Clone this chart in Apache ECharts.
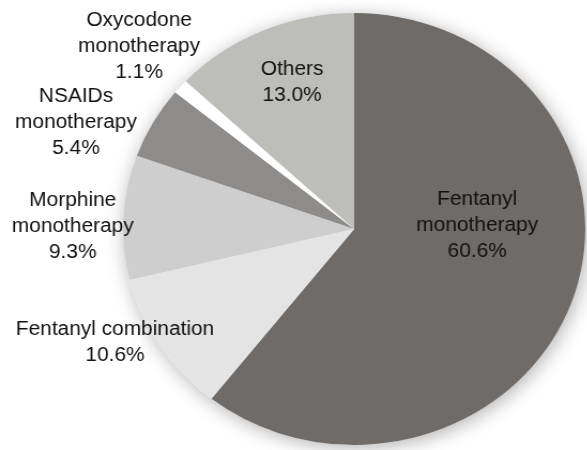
<!DOCTYPE html>
<html>
<head>
<meta charset="utf-8">
<script src="https://cdn.jsdelivr.net/npm/echarts@6/dist/echarts.min.js"></script>
<style>
  html, body { margin: 0; padding: 0; background: #fff; overflow: hidden; }
  #wrap { width: 587px; height: 450px; position: relative; overflow: hidden; }
  #chart { width: 549px; height: 450px; position: absolute; left: 0; top: 0;
           transform: scaleX(1.07); transform-origin: 0 0; }
</style>
</head>
<body>
<div id="wrap"><div id="chart"></div></div>
<script>
// ---- data ----
const categories = ['Fentanyl\nmonotherapy', 'Fentanyl combination', 'Morphine\nmonotherapy', 'NSAIDs\nmonotherapy', 'Oxycodone\nmonotherapy', 'Others'];
const values = [60.6, 10.6, 9.3, 5.4, 1.1, 13.0];

// ---- styling ----
const colors = ['#6e6b68', '#e4e4e4', '#cecece', '#8e8c8a', '#ffffff', '#bdbebA'];
const labelPos = [[446, 226], [107.5, 343], [68, 227], [71, 123], [130, 47], [273, 83]];
const center = [331, 229];
const radius = 216;

const chart = echarts.init(document.getElementById('chart'), null, { renderer: 'canvas' });
chart.setOption({
  backgroundColor: '#ffffff',
  animation: false,
  series: [
    {
      type: 'pie',
      silent: true,
      center: center,
      radius: radius,
      startAngle: 90,
      label: { show: false },
      labelLine: { show: false },
      itemStyle: { color: '#ffffff', shadowBlur: 18, shadowColor: 'rgba(0,0,0,0.3)', shadowOffsetX: 2, shadowOffsetY: 3 },
      data: [{ value: values.reduce((a, b) => a + b, 0), name: '' }]
    },
    {
      type: 'pie',
      center: center,
      radius: radius,
      startAngle: 90,
      clockwise: true,
      avoidLabelOverlap: false,
      itemStyle: { borderWidth: 0 },
      label: {
        show: true,
        color: '#111111',
        fontFamily: 'Liberation Sans, Arial, sans-serif',
        fontSize: 19.5,
        lineHeight: 26,
        align: 'center',
        formatter: p => p.name + '\n' + p.value.toFixed(1) + '%'
      },
      labelLine: { show: false },
      labelLayout: p => ({
        x: labelPos[p.dataIndex][0],
        y: labelPos[p.dataIndex][1],
        align: 'center',
        verticalAlign: 'middle'
      }),
      data: categories.map((c, i) => ({ name: c, value: values[i], itemStyle: { color: colors[i] } }))
    }
  ]
});
</script>
</body>
</html>
